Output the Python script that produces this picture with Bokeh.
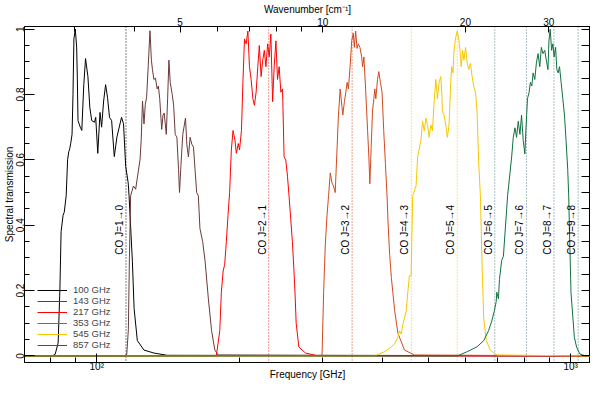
import math
from bokeh.plotting import figure
from bokeh.models import Range1d, LogAxis, LinearAxis, FixedTicker, LogScale, Span
from bokeh.core.properties import value
from bokeh.embed import file_html
from bokeh.resources import INLINE

# ---------------- data ----------------
band_names = ["100 GHz", "143 GHz", "217 GHz", "353 GHz", "545 GHz", "857 GHz"]

freq_100 = [70, 80.5, 81.7, 82.9, 83.6, 84.1, 84.9, 85.4, 86.2, 86.8, 87.3, 87.7, 88.1, 88.7, 89.1,
            89.5, 90.1, 90.7, 91.0, 91.3, 92.3, 93.0, 93.9, 94.7, 95.8, 96.7, 97.6, 98.9, 99.5,
            100.5, 101.6, 102.4, 103.4, 104.4, 105.4, 106.4, 107.5, 108.9, 110.3, 112.8, 113.9,
            115.1, 116.5, 117.0, 118.9, 119.9, 121.8, 125.8, 132.0, 140.7, 1100]
trans_100 = [0, 0, 0.005, 0.04, 0.2, 0.38, 0.43, 0.44, 0.49, 0.6, 0.625, 0.634, 0.649, 0.678, 0.80,
             0.97, 1.0, 0.945, 0.85, 0.72, 0.70, 0.69, 0.83, 0.91, 0.855, 0.76, 0.72, 0.715, 0.73,
             0.62, 0.745, 0.70, 0.78, 0.83, 0.79, 0.73, 0.72, 0.61, 0.67, 0.73, 0.71,
             0.58, 0.53, 0.49, 0.29, 0.145, 0.047, 0.018, 0.009, 0.002, 0]

freq_143 = [70, 114.5, 115.7, 116.6, 117.2, 117.9, 119.5, 120.8, 121.8, 123.4, 124.1, 124.9, 125.8,
            126.6, 127.4, 128.4, 129.5, 130.4, 131.1, 132.0, 133.0, 134.1, 134.9, 135.8, 137.1,
            138.0, 138.8, 140.2, 141.1, 142.0, 142.9, 144.3, 145.3, 146.4, 147.6, 148.8, 149.5,
            150.5, 151.9, 153.9, 154.9, 156.1, 157.4, 158.7, 160.0, 161.2, 162.5, 163.8, 165.1,
            167.3, 169.2, 172.0, 174.7, 177.5, 180.4, 1100]
trans_143 = [0, 0, 0.005, 0.08, 0.3, 0.49, 0.52, 0.51, 0.545, 0.60, 0.66, 0.78, 0.71,
             0.77, 0.79, 0.885, 0.995, 0.905, 0.876, 0.846, 0.85, 0.817, 0.826, 0.787, 0.693,
             0.737, 0.743, 0.678, 0.787, 0.905, 0.837, 0.80, 0.767, 0.678, 0.669, 0.571, 0.50,
             0.58, 0.678, 0.728, 0.648, 0.609, 0.669, 0.648, 0.639, 0.571, 0.50, 0.49, 0.39,
             0.35, 0.293, 0.175, 0.077, 0.018, 0.003, 0]

freq_217 = [70, 177, 178.9, 181.8, 183.2, 184.8, 186.2, 187.7, 189.2, 190.7, 192.3, 193.9, 195.7,
            197.0, 198.9, 200.1, 202.0, 203.4, 205.0, 206.6, 208.4, 210.0, 211.7, 213.5, 215.1,
            216.9, 218.7, 220.3, 222.2, 224.0, 225.7, 227.5, 229.4, 231.2, 233.0, 235.0, 236.8,
            238.8, 240.7, 242.6, 244.6, 246.6, 248.5, 250.5, 252.6, 254.5, 256.6, 258.7, 260.5,
            262.0, 263.5, 267.0, 275.7, 293.5, 1100]
trans_217 = [0, 0, 0.003, 0.077, 0.195, 0.26, 0.28, 0.35, 0.43, 0.50, 0.63, 0.69, 0.66,
             0.62, 0.65, 0.63, 0.69, 0.836, 0.97, 0.955, 0.994, 0.885, 0.846, 0.787, 0.767,
             0.807, 0.885, 0.95, 0.855, 0.905, 0.935, 0.885, 0.955, 0.915, 0.985, 0.778, 0.885,
             0.964, 0.846, 0.885, 0.807, 0.817, 0.609, 0.60, 0.55, 0.49, 0.42, 0.35, 0.27,
             0.195, 0.10, 0.027, 0.009, 0.0, 0]

freq_353 = [70, 296, 298.8, 301.1, 303.6, 306.1, 308.4, 311.0, 313.5, 315.9, 318.5, 323.6, 326.3,
            328.9, 330.5, 333.1, 335.4, 337.5, 339.6, 342.4, 345.1, 347.8, 349.5, 351.8, 354.1,
            356.3, 359.2, 362.2, 363.9, 366.2, 369.2, 372.8, 375.1, 376.9, 380.0, 381.8, 384.3,
            386.1, 388.0, 391.2, 393.6, 396.8, 399.9, 403.2, 406.5, 409.7, 412.0, 415.0, 418.4,
            425.1, 431.9, 446.0, 467.9, 1100]
trans_353 = [0, 0, 0.003, 0.195, 0.343, 0.43, 0.49, 0.56, 0.53, 0.52, 0.50, 0.737, 0.817,
             0.767, 0.737, 0.778, 0.807, 0.837, 0.817, 0.885, 0.964, 0.988, 0.944, 0.994, 0.941,
             0.955, 0.944, 0.915, 0.885, 0.915, 0.817, 0.689, 0.609, 0.527, 0.669, 0.749, 0.787,
             0.817, 0.787, 0.846, 0.870, 0.837, 0.807, 0.689, 0.589, 0.49, 0.40, 0.31, 0.24,
             0.14, 0.07, 0.018, 0.003, 0]

freq_545 = [70, 370, 386.1, 405.1, 418.4, 425.1, 431.9, 435.4, 439.0, 442.4, 449.6, 453.2, 456.8,
            460.6, 464.1, 471.8, 475.4, 483.2, 486.9, 490.9, 494.9, 498.7, 502.8, 506.9, 510.9,
            515.1, 519.3, 523.4, 527.6, 532.0, 534.6, 536.1, 540.6, 545.0, 549.3, 553.7, 558.3,
            561.0, 564.5, 567.3, 571.9, 576.4, 581.1, 583.9, 587.5, 591.5, 595.2, 600.1, 604.7,
            609.6, 614.6, 619.4, 624.4, 629.6, 634.5, 639.6, 644.9, 649.8, 655.3, 663.8, 676.6,
            698.6, 1100]
trans_545 = [0, 0, 0.0, 0.013, 0.028, 0.037, 0.057, 0.077, 0.067, 0.097, 0.136, 0.195, 0.245,
             0.245, 0.49, 0.52, 0.61, 0.66, 0.719, 0.689, 0.728, 0.707, 0.669, 0.707, 0.689,
             0.778, 0.846, 0.787, 0.837, 0.855, 0.807, 0.748, 0.737, 0.707, 0.669, 0.707, 0.837,
             0.885, 0.866, 0.935, 0.974, 0.994, 0.964, 0.935, 0.885, 0.935, 0.905, 0.944, 0.896,
             0.876, 0.896, 0.855, 0.825, 0.807, 0.748, 0.589, 0.49, 0.293, 0.115, 0.047, 0.018,
             0.003, 0]

freq_857 = [70, 560, 576.4, 604.7, 634.5, 655.3, 670.8, 681.6, 689.5, 696.3, 698.4, 704.0, 707.4,
            715.3, 721.1, 736.0, 750.6, 756.6, 762.9, 768.8, 775.1, 781.4, 787.6, 794.0, 800.4,
            804.3, 810.6, 817.1, 822.2, 827.9, 833.1, 839.9, 846.4, 853.4, 860.5, 867.1, 874.2,
            881.5, 888.2, 895.4, 899.7, 905.3, 911.4, 917.1, 922.8, 929.2, 935.0, 940.9, 947.2,
            954.6, 962.4, 970.2, 977.8, 985.6, 990.4, 993.8, 1001.4, 1017.9, 1029.2, 1045.6,
            1074.7, 1100]
trans_857 = [0, 0, 0.0, 0.013, 0.028, 0.047, 0.077, 0.107, 0.136, 0.166, 0.195, 0.175, 0.234,
             0.293, 0.305, 0.49, 0.609, 0.669, 0.698, 0.669, 0.718, 0.678, 0.737, 0.659, 0.618,
             0.689, 0.787, 0.807, 0.837, 0.826, 0.866, 0.846, 0.896, 0.925, 0.885, 0.944, 0.925,
             0.935, 0.905, 0.876, 0.964, 1.0, 0.935, 0.955, 0.915, 0.944, 0.876, 0.866, 0.885,
             0.837, 0.787, 0.737, 0.659, 0.571, 0.49, 0.393, 0.195, 0.057, 0.027, 0.006,
             0.0, 0]

co_freq = [115.27, 230.54, 345.80, 461.04, 576.27, 691.47, 806.65, 921.80, 1036.91]
co_label = ["CO J=1\u21920", "CO J=2\u21921", "CO J=3\u21922", "CO J=4\u21923", "CO J=5\u21924",
            "CO J=6\u21925", "CO J=7\u21926", "CO J=8\u21927", "CO J=9\u21928"]

y_major = [0.0, 0.2, 0.4, 0.6, 0.8, 1.0]
y_minor = [0.05, 0.1, 0.15, 0.25, 0.3, 0.35, 0.45, 0.5, 0.55, 0.65, 0.7, 0.75, 0.85, 0.9, 0.95]
f_major = [100, 1000]
f_minor = [80, 90, 200, 300, 400, 500, 600, 700, 800, 900]
wn_major = [5, 10, 20, 30]
wn_minor = [3, 4, 6, 7, 8, 9]
GHZ_PER_CM = 29.9792458

# ---------------- style ----------------
band_colors = ["#000000", "#6b3a3a", "#ff0000", "#d2491f", "#f6c700", "#11703f"]
co_colors = ["#000000", "#ff3030", "#d2491f", "#f6c700", "#f6c700",
             "#56808a", "#56808a", "#56808a", "#56808a"]
FONT = "Liberation Sans"
F_LO, F_HI = 70.4, 1101.0

p = figure(width=590, height=382, x_axis_type="log",
           x_range=Range1d(F_LO, F_HI), y_range=Range1d(-0.02, 1.008),
           output_backend="svg", toolbar_location=None,
           min_border_left=0, min_border_right=0, min_border_top=0, min_border_bottom=0)
p.xgrid.visible = False
p.ygrid.visible = False
p.outline_line_color = "black"
p.outline_line_width = 1

def style_axis(ax, major_in, minor_in, label_standoff, title_standoff):
    ax.major_tick_in = major_in
    ax.major_tick_out = 0
    ax.minor_tick_in = minor_in
    ax.minor_tick_out = 0
    ax.axis_line_color = "black"
    ax.major_tick_line_color = "black"
    ax.minor_tick_line_color = "black"
    ax.major_label_text_font = FONT
    ax.major_label_text_font_size = "10px"
    ax.major_label_text_color = "black"
    ax.major_label_text_line_height = 1.0
    ax.axis_label_text_font = FONT
    ax.axis_label_text_font_size = "10px"
    ax.axis_label_text_font_style = "normal"
    ax.axis_label_text_color = "black"
    ax.axis_label_text_line_height = 1.0
    ax.major_label_standoff = label_standoff
    ax.axis_label_standoff = title_standoff

xa = p.xaxis[0]
xa.ticker = FixedTicker(ticks=f_major, minor_ticks=f_minor)
xa.major_label_overrides = {100: "10\u00b2", 1000: "10\u00b3"}
xa.axis_label = "Frequency [GHz]"
style_axis(xa, 9, 5, -2, -6)

ya = p.yaxis[0]
ya.ticker = FixedTicker(ticks=y_major, minor_ticks=y_minor)
ya.axis_label = "Spectral transmission"
ya.major_label_orientation = "parallel"
style_axis(ya, 10, 5, 0, -1)

# right-hand frame ticks only (no labels)
ry = LinearAxis(ticker=FixedTicker(ticks=[], minor_ticks=sorted(y_major + y_minor)))
style_axis(ry, 10, 9, 0, 0)
p.add_layout(ry, "right")

p.extra_x_ranges = {"wn": Range1d(F_LO / GHZ_PER_CM, F_HI / GHZ_PER_CM)}
p.extra_x_scales = {"wn": LogScale()}
ta = LogAxis(x_range_name="wn", ticker=FixedTicker(ticks=wn_major, minor_ticks=wn_minor),
             axis_label="Wavenumber [cm\u207b\u00b9]")
style_axis(ta, 6, 5, 1, 0)
p.add_layout(ta, "above")

for f, c in zip(co_freq, co_colors):
    p.add_layout(Span(location=f, dimension="height", line_color=c, line_width=1,
                      line_dash="1 2", level="underlay"))

freqs = [freq_100, freq_143, freq_217, freq_353, freq_545, freq_857]
trans = [trans_100, trans_143, trans_217, trans_353, trans_545, trans_857]
for fx, ty, c, name in zip(freqs, trans, band_colors, band_names):
    p.line(fx, ty, line_color=c, line_width=1, legend_label=name)

p.text(x=co_freq, y=0.31, text=co_label, angle=math.pi / 2, text_align="left",
       text_baseline="bottom", x_offset=-1, text_font=value(FONT),
       text_font_size="10px", text_color="black")

lg = p.legend[0]
lg.location = (13, 12)
lg.label_text_font = FONT
lg.label_text_font_size = "9.5px"
lg.label_text_line_height = 0.8
lg.glyph_width = 30
lg.glyph_height = 8
lg.label_height = 8
lg.spacing = -3
lg.padding = 0
lg.margin = 0
lg.label_standoff = 6
lg.border_line_alpha = 0
lg.background_fill_alpha = 0

open("out.html", "w").write(file_html(p, INLINE))
